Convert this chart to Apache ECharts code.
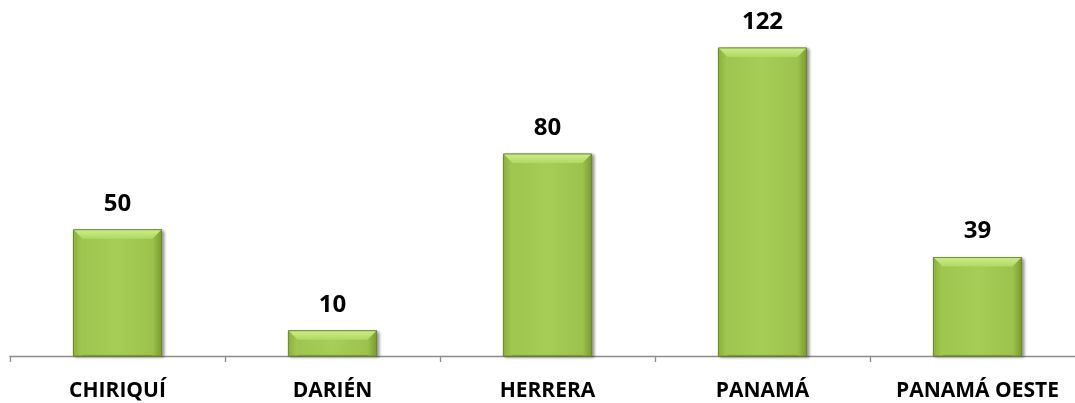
<!DOCTYPE html>
<html><head><meta charset="utf-8">
<script src="https://cdn.jsdelivr.net/npm/echarts@6/dist/echarts.min.js"></script>
<style>html,body{margin:0;padding:0;background:#fff}#c{width:1075px;height:403px}</style>
</head><body><div id="c"></div>
<script>
const categories = ['CHIRIQUÍ', 'DARIÉN', 'HERRERA', 'PANAMÁ', 'PANAMÁ OESTE'];
const values = [50, 10, 80, 122, 39];

const chart = echarts.init(document.getElementById('c'));
const FONT = '"Open Sans", Lato, sans-serif';

function renderBevel(params, api) {
  const top = api.coord([api.value(0), api.value(1)]);
  const base = api.coord([api.value(0), 0]);
  const w = api.size([1, 0])[0] * 0.41;
  const l = top[0] - w / 2, r = top[0] + w / 2, t = top[1], b0 = base[1];
  const b = Math.min(9, (b0 - t) / 2);
  return {
    type: 'group',
    children: [
      { type: 'rect', shape: { x: l, y: t, width: w, height: b0 - t },
        style: { fill: new echarts.graphic.LinearGradient(0, 0, 1, 0, [
          { offset: 0, color: '#9cc34b' }, { offset: 0.5, color: '#a6cd55' }, { offset: 1, color: '#9ac049' }]),
          stroke: '#6e8a2b', lineWidth: 0.8,
          shadowColor: 'rgba(0,0,0,0.4)', shadowBlur: 3, shadowOffsetX: 2, shadowOffsetY: 1 } },
      { type: 'polygon', shape: { points: [[l, t], [r, t], [r - b, t + b], [l + b, t + b]] },
        style: { fill: new echarts.graphic.LinearGradient(0, 0, 0, 1, [
          { offset: 0, color: '#cbee88' }, { offset: 1, color: '#b0d862' }]) } },
      { type: 'polygon', shape: { points: [[l, t], [l + b, t + b], [l + b, b0], [l, b0]] },
        style: { fill: new echarts.graphic.LinearGradient(0, 0, 1, 0, [
          { offset: 0, color: '#8cb13b' }, { offset: 1, color: '#a2c951' }]) } },
      { type: 'polygon', shape: { points: [[r, t], [r - b, t + b], [r - b, b0], [r, b0]] },
        style: { fill: new echarts.graphic.LinearGradient(0, 0, 1, 0, [
          { offset: 0, color: '#9cc34b' }, { offset: 1, color: '#7a9b2f' }]) } },
      { type: 'rect', shape: { x: l, y: t, width: w, height: b0 - t },
        style: { fill: 'none', stroke: '#6a852a', lineWidth: 0.8 } }
    ]
  };
}

chart.setOption({
  animation: false,
  grid: { left: 10, width: 1075, top: 2.56, bottom: 47, containLabel: false, outerBoundsMode: 'none' },
  xAxis: {
    type: 'category', data: categories,
    axisLine: { lineStyle: { color: '#8c8c8c', width: 1.3 } },
    axisTick: { show: true, length: 6, lineStyle: { color: '#8c8c8c', width: 1.3 } },
    axisLabel: { color: '#000', fontFamily: FONT, fontWeight: 'bold', fontSize: 21, margin: 25 }
  },
  yAxis: { type: 'value', min: 0, max: 140, show: false, splitLine: { show: false } },
  series: [
    { type: 'bar', data: values, barWidth: '41%', itemStyle: { color: '#a2c950' },
      label: { show: true, position: 'top', distance: 14, color: '#000', fontFamily: FONT,
        fontWeight: 'bold', fontSize: 24 } },
    { type: 'custom', renderItem: renderBevel, data: values.map((v, i) => [i, v]), z: 3, silent: true }
  ]
});
</script></body></html>
